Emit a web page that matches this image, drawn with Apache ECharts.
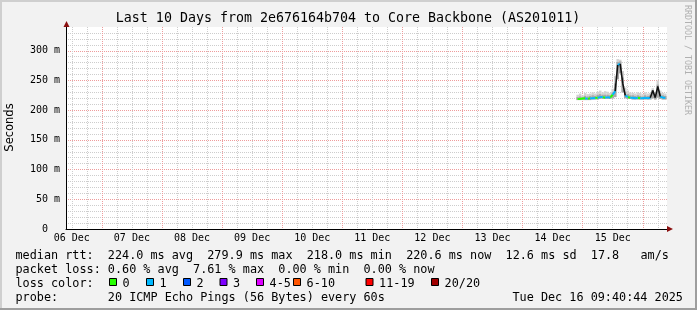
<!DOCTYPE html>
<html><head><meta charset="utf-8">
<script src="https://cdn.jsdelivr.net/npm/echarts@6/dist/echarts.min.js"></script>
<style>html,body{margin:0;padding:0;background:#f2f2f2}#c{width:697px;height:310px}</style>
</head><body><div id="c"></div>
<script>
// ---------------- data ----------------
const titleText = 'Last 10 Days from 2e676164b704 to Core Backbone (AS201011)';
const startHour = 9.679;    // Dec 06 09:40:44 (hours since Dec 06 00:00)
const endHour = 249.679;    // Dec 16 09:40:44
const dayLabels = ['06 Dec','07 Dec','08 Dec','09 Dec','10 Dec','11 Dec','12 Dec','13 Dec','14 Dec','15 Dec'];
const yTickLabels = ['0  ','50 m','100 m','150 m','200 m','250 m','300 m'];
const times     = [214,215,216,217,218,219,220,221,222,223,224,225,226,227,228,229,230,231,232,233,234,235,236,237,238,239,240,241,242,243,244,245,246,247,248,249];
const median    = [219,219,219.5,220,219,220,220,220.5,221,222,222,221,222,221,226,232,276,278,245,225,222,221,221,220,221,220,220,221,220,221,233,221,240,223,221,221];
const smokeLow  = [217,217,217,217,217,217,218,218,218,219,219,219,219,219,220,222,252,262,230,220,219,219,218,218,218,218,218,218,218,218,220,218,221,219,218,218];
const smokeMid  = [222,223,222,224,223,224,225,224,226,227,226,226,226,225,230,245,281,282,255,231,227,225,225,224,225,224,223,225,224,225,234,226,243,228,225,224];
const smokeHigh = [226,228,225,229,227,228,230,228,231,233,230,232,231,229,236,258,286,285,266,238,233,230,229,228,230,229,227,230,228,229,237,231,250,233,229,228];
const lossPings = [0,0,0,0,1,0,1,1,0,1,1,0,1,1,0,1,1,1,1,1,1,0,1,1,1,0,1,1,1,1,1,1,0,1,1,1];
const lossBins   = ['0','1','2','3','4-5','6-10','11-19','20/20'];
const lossColors = ['#26ff00','#00b8ff','#0059ff','#7e00ff','#dd00ff','#ff5500','#ff0000','#a10000'];
const statLines = [
  'median rtt:  224.0 ms avg  279.9 ms max  218.0 ms min  220.6 ms now  12.6 ms sd  17.8   am/s',
  'packet loss: 0.60 % avg  7.61 % max  0.00 % min  0.00 % now',
  'loss color:',
  'probe:       20 ICMP Echo Pings (56 Bytes) every 60s'
];
const stampText = 'Tue Dec 16 09:40:44 2025';
const sideText = 'RRDTOOL / TOBI OETIKER';

// ---------------- helpers ----------------
function lossBin(n){ if(n<=3) return n; if(n<=5) return 4; if(n<=10) return 5; if(n<=19) return 6; return 7; }
const STEEP = 10;
function segData(pred){
  const out=[];
  for(let i=0;i<times.length-1;i++){
    if(pred(i)){ out.push([times[i],median[i]],[times[i+1],median[i+1]],[times[i+1],'-']); }
  }
  return out;
}
const noonTicks=[]; for(let h=12; h<endHour; h+=24) noonTicks.push(h);
const gridTicks=[]; for(let h=12; h<endHour; h+=6) gridTicks.push(h);

const MONO='DejaVu Sans Mono';
const GRAY='#cdcdcd', RED='#ee9c9c';
const TXT='11.8px "DejaVu Sans Mono"';

const series=[];
series.push({
  type:'custom', name:'smoke', silent:true, clip:true, z:2,
  renderItem(params, api){
    const t=api.value(0), lo=api.value(1), mid=api.value(2), hi=api.value(3);
    const a=api.coord([t-0.5,hi]), b=api.coord([t+0.5,lo]), m=api.coord([t-0.5,mid]);
    const w=b[0]-a[0];
    return {type:'group',children:[
      {type:'rect',shape:{x:a[0],y:a[1],width:w,height:b[1]-a[1]},style:{fill:'#d2d2d2'}},
      {type:'rect',shape:{x:a[0],y:m[1],width:w,height:b[1]-m[1]},style:{fill:'#a8a8a8'}}
    ]};
  },
  encode:{x:0,y:1},
  data: times.map((t,i)=>[t,smokeLow[i],smokeMid[i],smokeHigh[i]])
});
lossBins.forEach((name,k)=>{
  series.push({
    type:'line', name, symbol:'none', showSymbol:false, connectNulls:false, z:3,
    lineStyle:{width:2,color:lossColors[k]}, itemStyle:{color:lossColors[k]},
    data: segData(i=>Math.abs(median[i+1]-median[i])<=STEEP && lossBin(lossPings[i+1])===k)
  });
});
series.push({
  type:'line', name:'steep', symbol:'none', showSymbol:false, connectNulls:false, z:4,
  lineStyle:{width:1.6,color:'#111'},
  data: segData(i=>Math.abs(median[i+1]-median[i])>STEEP)
});

// graphics: frame, texts, legend boxes, arrows
const graphic=[
  {type:'rect',shape:{x:0,y:0,width:697,height:2},style:{fill:'#cfcfcf'},silent:true},
  {type:'rect',shape:{x:0,y:0,width:2,height:310},style:{fill:'#cfcfcf'},silent:true},
  {type:'rect',shape:{x:0,y:308,width:697,height:2},style:{fill:'#9e9e9e'},silent:true},
  {type:'rect',shape:{x:695,y:0,width:2,height:310},style:{fill:'#9e9e9e'},silent:true},
  {type:'text',x:348,y:19,style:{text:titleText,font:'13.3px "DejaVu Sans Mono"',fill:'#000',align:'center',verticalAlign:'middle'}},
  {type:'text',x:10.5,y:127.5,rotation:Math.PI/2,style:{text:'Seconds',font:'11.5px "DejaVu Sans"',fill:'#000',align:'center',verticalAlign:'middle'}},
  {type:'text',x:687,y:60,rotation:-Math.PI/2,style:{text:sideText,font:'8.3px "DejaVu Sans Mono"',fill:'#b0b0b0',align:'center',verticalAlign:'middle'}},
  {type:'polygon',shape:{points:[[63.5,27],[69.5,27],[66.5,21]]},style:{fill:'#8b1010'},z:100},
  {type:'polygon',shape:{points:[[667,226],[667,232],[673,229]]},style:{fill:'#8b1010'},z:100}
];
const lineY=[255.8,269.8,283.8,297.6];
statLines.forEach((s,i)=>graphic.push({type:'text',x:15.5,y:lineY[i],style:{text:s,font:TXT,fill:'#000',verticalAlign:'middle'}}));
graphic.push({type:'text',x:512.5,y:lineY[3],style:{text:stampText,font:TXT,fill:'#000',verticalAlign:'middle'}});
const legendX=[109,146,183,219.5,256,293,365.5,431];
lossBins.forEach((name,k)=>{
  graphic.push({type:'rect',shape:{x:legendX[k]+0.5,y:278.5,width:7,height:7},style:{fill:lossColors[k],stroke:'#000',lineWidth:1}});
  graphic.push({type:'text',x:legendX[k]+13.6,y:lineY[2],style:{text:name,font:TXT,fill:'#000',verticalAlign:'middle'}});
});

const chart=echarts.init(document.getElementById('c'),null,{renderer:'canvas'});
chart.setOption({
  animation:false,
  backgroundColor:'#f2f2f2',
  grid:{left:66,right:30,top:27,bottom:81,show:true,backgroundColor:'#ffffff',borderWidth:0},
  xAxis:[{
    type:'value', min:startHour, max:endHour,
    axisLine:{show:true,onZero:false,lineStyle:{color:'#000',width:1}},
    axisTick:{show:false,customValues:gridTicks},
    axisLabel:{customValues:noonTicks,margin:4,fontFamily:MONO,fontSize:10,color:'#000',
      formatter:v=>dayLabels[Math.round((v-12)/24)]},
    splitLine:{show:true,lineStyle:{color:[GRAY,GRAY,RED,GRAY],type:[1,1],width:1}}
  }],
  yAxis:[{
    type:'value', min:0, max:340, interval:10,
    axisLine:{show:true,onZero:false,lineStyle:{color:'#000',width:1}},
    axisTick:{show:false},
    axisLabel:{margin:6,fontFamily:MONO,fontSize:10,color:'#000',showMaxLabel:false,
      formatter:v=>(v%50===0 && v/50<yTickLabels.length)?yTickLabels[v/50]:''},
    splitLine:{show:true,showMaxLine:false,lineStyle:{color:[RED,GRAY,GRAY,GRAY,GRAY],type:[1,1],width:1}}
  }],
  series,
  graphic
});
</script></body></html>
